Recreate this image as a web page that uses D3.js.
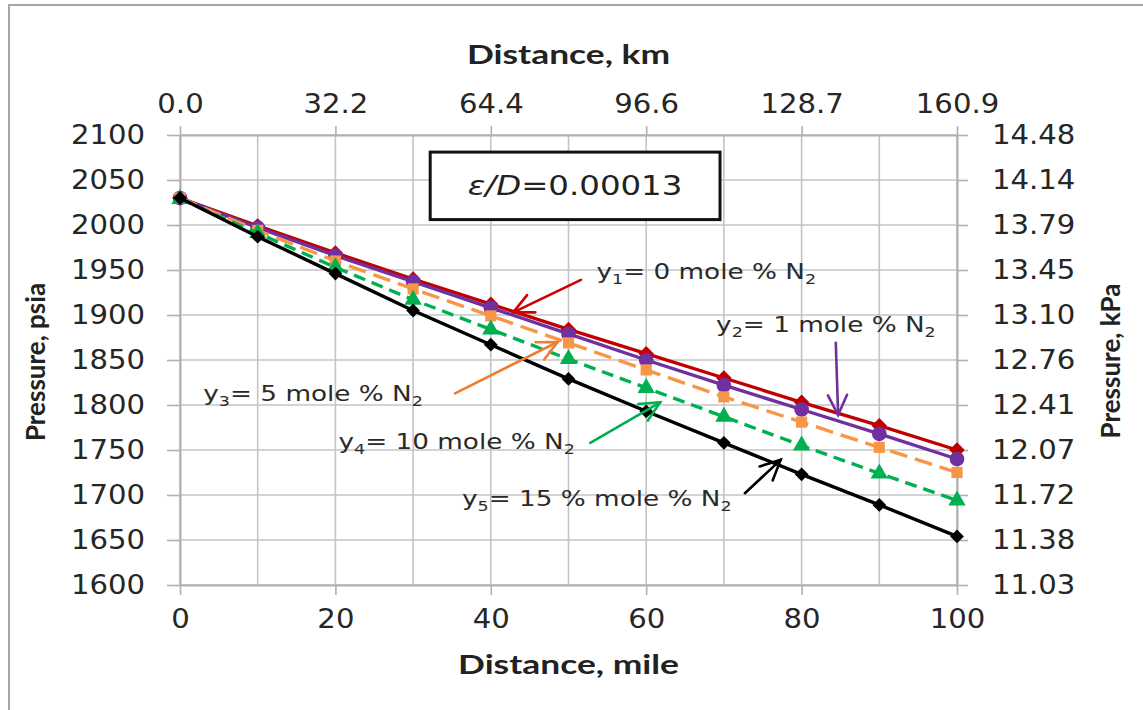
<!DOCTYPE html>
<html>
<head>
<meta charset="utf-8">
<script src="https://cdn.jsdelivr.net/npm/d3@7"></script>
<style>
  html, body { margin: 0; padding: 0; background: #fff; }
  svg { display: block; }
</style>
</head>
<body>
<svg id="chart" width="1143" height="710"></svg>
<script>
// Pipeline pressure profile vs. distance for different N2 contents
const distanceMile = [0, 10, 20, 30, 40, 50, 60, 70, 80, 90, 100];
const pY1 = [2030, 1999, 1969, 1940, 1912, 1884, 1857, 1830, 1803, 1777, 1750]; // 0 mole % N2
const pY2 = [2030, 1997, 1966, 1937, 1908, 1879, 1850, 1822, 1795, 1768, 1740]; // 1 mole % N2
const pY3 = [2030, 1994, 1960, 1929, 1899, 1869, 1839, 1809, 1781, 1753, 1725]; // 5 mole % N2
const pY4 = [2029, 1991, 1953, 1917, 1884, 1851, 1819, 1787, 1755, 1724, 1694]; // 10 mole % N2
const pY5 = [2030, 1987, 1946, 1905, 1867, 1829, 1793, 1758, 1723, 1689, 1654]; // 15 mole % N2

const xTicksMile = [0, 20, 40, 60, 80, 100];
const xTicksKm = ["0.0", "32.2", "64.4", "96.6", "128.7", "160.9"];
const yTicksPsia = [1600, 1650, 1700, 1750, 1800, 1850, 1900, 1950, 2000, 2050, 2100];
const yTicksKPa = ["11.03", "11.38", "11.72", "12.07", "12.41", "12.76", "13.10", "13.45", "13.79", "14.14", "14.48"];

const series = [
  { id: "y1", values: pY1, color: "#C00000", dash: null, marker: "diamond", size: 120 },
  { id: "y2", values: pY2, color: "#7030A0", dash: null, marker: "circle", size: 170 },
  { id: "y3", values: pY3, color: "#F79646", dash: "18,8", marker: "square", size: 125 },
  { id: "y4", values: pY4, color: "#00B050", dash: "12,7", marker: "triangle", size: 130 },
  { id: "y5", values: pY5, color: "#000000", dash: null, marker: "diamond", size: 95 }
];

// Callout labels: text anchor (data units) and arrow tail/head (data units)
const callouts = [
  { main: "y", sub: "1", rest: "= 0 mole % N", sub2: "2", tx: 53.6, ty: 1940, color: "#D00000", a: [51.6, 1939, 42.9, 1903] },
  { main: "y", sub: "2", rest: "= 1 mole % N", sub2: "2", tx: 69.0, ty: 1881, color: "#7030A0", a: [84.4, 1869, 84.7, 1789] },
  { main: "y", sub: "3", rest: "= 5 mole % N", sub2: "2", tx: 3.0, ty: 1804, color: "#ED7D31", a: [35.4, 1813, 48.6, 1870] },
  { main: "y", sub: "4", rest: "= 10 mole % N", sub2: "2", tx: 20.4, ty: 1751, color: "#00B050", a: [52.8, 1758, 61.8, 1803] },
  { main: "y", sub: "5", rest: "= 15 % mole % N", sub2: "2", tx: 36.3, ty: 1688, color: "#000000", a: [72.7, 1702, 77.3, 1739] }
];

const svg = d3.select("#chart");
const W = 1143, H = 710;
const plotLeft = 180, plotRight = 957, plotTop = 135, plotBottom = 585;

const x = d3.scaleLinear().domain([0, 100]).range([plotLeft, plotRight]);
const y = d3.scaleLinear().domain([1600, 2100]).range([plotBottom, plotTop]);

const gridColor = "#c4c4c4";
const tickFont = "'DejaVu Sans', Verdana, sans-serif";
const titleFont = "Lato, 'Open Sans', sans-serif";

// Widen glyphs horizontally by factor k (keeps the anchor point)
function widen(sel, k) {
  sel.each(function () {
    const w = this.getComputedTextLength();
    d3.select(this).attr("textLength", w * k).attr("lengthAdjust", "spacingAndGlyphs");
  });
}

// Outer frame
svg.append("rect").attr("x", 9).attr("y", 5).attr("width", W).attr("height", H)
  .attr("fill", "#fff").attr("stroke", "#a6a6a6").attr("stroke-width", 2);

// Grid
const grid = svg.append("g");
grid.selectAll("line.v").data(d3.range(0, 101, 10)).join("line")
  .attr("x1", d => x(d)).attr("x2", d => x(d))
  .attr("y1", plotTop).attr("y2", plotBottom)
  .attr("stroke", gridColor).attr("stroke-width", 1.6);
grid.selectAll("line.h").data(yTicksPsia).join("line")
  .attr("x1", plotLeft).attr("x2", plotRight)
  .attr("y1", d => y(d)).attr("y2", d => y(d))
  .attr("stroke", gridColor).attr("stroke-width", 1.6);

// Axes
const axisStyle = g => {
  g.select(".domain").attr("stroke", "#b0b0b0").attr("stroke-width", 2);
  g.selectAll(".tick line").attr("stroke", "#b0b0b0").attr("stroke-width", 1.6);
  g.selectAll(".tick text").attr("fill", "#262626").style("font-family", tickFont).style("font-size", "26px")
    .call(widen, 1.12);
};

svg.append("g").attr("transform", `translate(0,${plotBottom})`)
  .call(d3.axisBottom(x).tickValues(xTicksMile).tickSize(10).tickSizeOuter(0).tickPadding(15))
  .call(axisStyle);

svg.append("g").attr("transform", `translate(0,${plotTop})`)
  .call(d3.axisTop(x).tickValues(xTicksMile).tickSize(9).tickSizeOuter(0).tickPadding(13)
    .tickFormat((d, i) => xTicksKm[i]))
  .call(axisStyle);

svg.append("g").attr("transform", `translate(${plotLeft},0)`)
  .call(d3.axisLeft(y).tickValues(yTicksPsia).tickSize(13).tickSizeOuter(0).tickPadding(22)
    .tickFormat(d3.format("d")))
  .call(axisStyle);

svg.append("g").attr("transform", `translate(${plotRight},0)`)
  .call(d3.axisRight(y).tickValues(yTicksPsia).tickSize(11).tickSizeOuter(0).tickPadding(24)
    .tickFormat((d, i) => yTicksKPa[i]))
  .call(axisStyle);

// Axis titles
const title = (txt, tx, ty, rot, k) => svg.append("text")
  .attr("transform", `translate(${tx},${ty}) rotate(${rot})`)
  .attr("text-anchor", "middle").attr("dominant-baseline", "middle")
  .style("font-family", titleFont).style("font-weight", "bold").style("font-size", "26px")
  .attr("fill", "#222").text(txt).call(widen, k);
title("Distance, mile", (plotLeft + plotRight) / 2, 667, 0, 1.36);
title("Distance, km", (plotLeft + plotRight) / 2, 57, 0, 1.36);
title("Pressure, psia", 38, 362, -90, 1.0);
title("Pressure, kPa", 1113, 361, -90, 1.0);

// Roughness box
const boxG = svg.append("g");
boxG.append("rect").attr("x", x(32.2)).attr("y", y(2081)).attr("width", x(69.5) - x(32.2)).attr("height", y(2006) - y(2081))
  .attr("fill", "#fff").attr("stroke", "#111").attr("stroke-width", 3);
const bt = boxG.append("text").attr("x", (x(32.2) + x(69.5)) / 2).attr("y", (y(2081) + y(2006)) / 2 + 1)
  .attr("text-anchor", "middle").attr("dominant-baseline", "middle")
  .style("font-family", tickFont).style("font-size", "27px").attr("fill", "#222");
bt.append("tspan").style("font-style", "italic").text("ε/D");
bt.append("tspan").text("=0.00013");
bt.call(widen, 1.2);

// Series lines and markers
const line = d3.line().x((d, i) => x(distanceMile[i])).y(d => y(d));
const symbolType = { diamond: d3.symbolSquare, circle: d3.symbolCircle, square: d3.symbolSquare, triangle: d3.symbolTriangle };

series.forEach(s => {
  const g = svg.append("g");
  g.append("path").datum(s.values).attr("d", line)
    .attr("fill", "none").attr("stroke", s.color).attr("stroke-width", 3.4)
    .attr("stroke-dasharray", s.dash).attr("stroke-linejoin", "round");
  const rot = s.marker === "diamond" ? 45 : 0;
  g.selectAll("path.m").data(s.values).join("path")
    .attr("transform", (d, i) => `translate(${x(distanceMile[i])},${y(d)}) rotate(${rot})`)
    .attr("d", d3.symbol().type(symbolType[s.marker]).size(s.size))
    .attr("fill", s.color);
});

// Callouts
callouts.forEach(c => {
  const t = svg.append("text").attr("x", x(c.tx)).attr("y", y(c.ty))
    .style("font-family", tickFont).style("font-size", "21px").attr("fill", "#2a2a2a");
  t.append("tspan").text(c.main);
  t.append("tspan").attr("dy", 5).style("font-size", "14px").text(c.sub);
  t.append("tspan").attr("dy", -5).text(c.rest);
  t.append("tspan").attr("dy", 5).style("font-size", "14px").text(c.sub2);
  t.call(widen, 1.25);

  const [x1, y1, x2, y2] = [x(c.a[0]), y(c.a[1]), x(c.a[2]), y(c.a[3])];
  const ang = Math.atan2(y2 - y1, x2 - x1);
  const L = 22, spread = 0.45;
  const g = svg.append("g").attr("stroke", c.color).attr("stroke-width", 2.6).attr("fill", "none").attr("stroke-linecap", "round");
  g.append("line").attr("x1", x1).attr("y1", y1).attr("x2", x2).attr("y2", y2);
  g.append("path").attr("d",
    `M${x2 - L * Math.cos(ang - spread)},${y2 - L * Math.sin(ang - spread)}` +
    `L${x2},${y2}` +
    `L${x2 - L * Math.cos(ang + spread)},${y2 - L * Math.sin(ang + spread)}`);
});
</script>
</body>
</html>
